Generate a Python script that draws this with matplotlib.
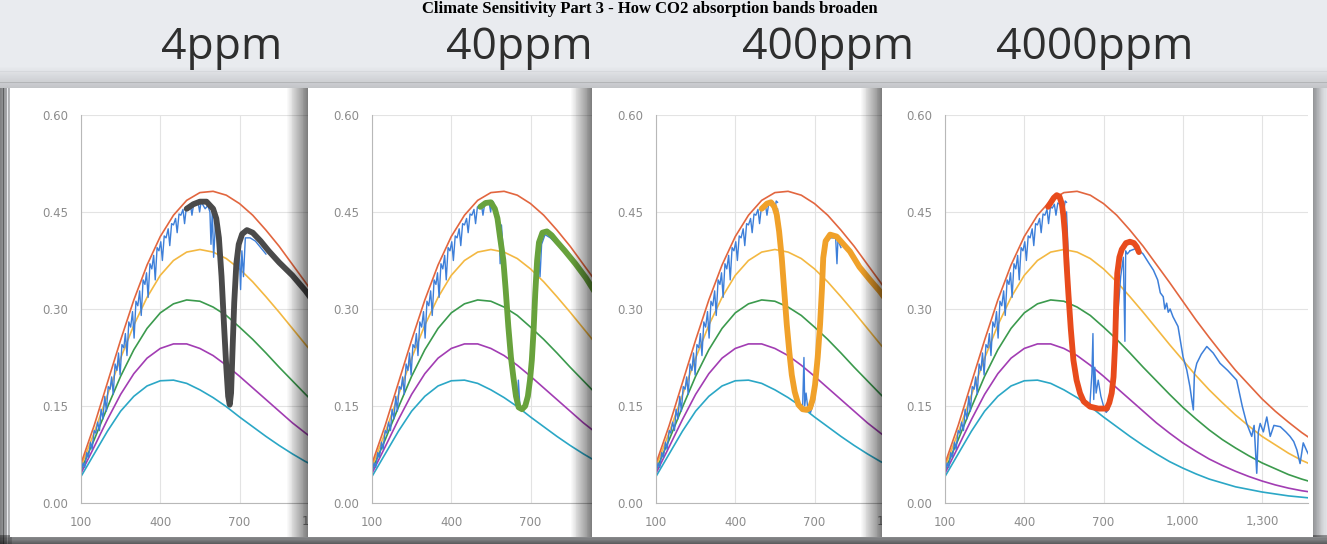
"""Four overlapping chart cards: how the CO2 band widens at 4, 40, 400, 4000 ppm."""
import matplotlib

matplotlib.use("Agg")
import matplotlib.pyplot as plt
import numpy as np
from matplotlib.patches import Rectangle

W, H = 1327, 544

TITLE = "Climate Sensitivity Part 3 - How CO2 absorption bands broaden"
PANEL_LABELS = ["4ppm", "40ppm", "400ppm", "4000ppm"]

XTICKS = [100, 400, 700, 1000, 1300]
XTICK_LABELS = ["100", "400", "700", "1,000", "1,300"]
YTICKS = [0.0, 0.15, 0.30, 0.45, 0.60]
YTICK_LABELS = ["0.00", "0.15", "0.30", "0.45", "0.60"]

# smooth reference curves, the same in every card (300K down to 220K)
WAVENUMBER = [100, 150, 200, 250, 300, 350, 400, 450, 500, 550, 600, 650, 700,
              750, 800, 850, 900, 950, 1000, 1050, 1100, 1150, 1200, 1250,
              1300, 1350, 1400, 1450, 1500]
CURVE_300 = [0.061, 0.120, 0.186, 0.252, 0.314, 0.368, 0.412, 0.445, 0.468,
             0.480, 0.482, 0.476, 0.463, 0.445, 0.422, 0.397, 0.369, 0.341,
             0.312, 0.283, 0.256, 0.230, 0.205, 0.183, 0.161, 0.142, 0.125,
             0.109, 0.095]
CURVE_280 = [0.056, 0.109, 0.167, 0.224, 0.275, 0.318, 0.352, 0.375, 0.388,
             0.392, 0.388, 0.378, 0.362, 0.342, 0.319, 0.295, 0.270, 0.245,
             0.221, 0.197, 0.175, 0.155, 0.136, 0.119, 0.103, 0.090, 0.077,
             0.066, 0.057]
CURVE_260 = [0.051, 0.098, 0.148, 0.196, 0.237, 0.270, 0.294, 0.308, 0.314,
             0.312, 0.303, 0.290, 0.272, 0.253, 0.232, 0.210, 0.189, 0.168,
             0.148, 0.130, 0.113, 0.098, 0.085, 0.073, 0.062, 0.053, 0.044,
             0.037, 0.031]
CURVE_240 = [0.046, 0.087, 0.129, 0.168, 0.200, 0.224, 0.239, 0.246, 0.246,
             0.239, 0.228, 0.213, 0.196, 0.178, 0.160, 0.142, 0.124, 0.108,
             0.093, 0.080, 0.068, 0.058, 0.049, 0.041, 0.034, 0.028, 0.023,
             0.019, 0.016]
CURVE_220 = [0.041, 0.076, 0.111, 0.142, 0.165, 0.181, 0.189, 0.190, 0.185,
             0.175, 0.163, 0.149, 0.133, 0.118, 0.103, 0.089, 0.076, 0.064,
             0.054, 0.045, 0.037, 0.031, 0.025, 0.021, 0.017, 0.014, 0.011,
             0.009, 0.007]
CURVES = [CURVE_220, CURVE_240, CURVE_260, CURVE_280, CURVE_300]
CURVE_COLORS = ["#2ba7c6", "#a23db3", "#3b9a4d", "#f3b842", "#e2663f"]

# noisy spectrum, left wing (shared)
BLUE_LEFT_V = [100, 108, 114, 122, 128, 136, 142, 150, 156, 163, 170, 176, 183,
               190, 196, 203, 210, 216, 222, 229, 236, 242, 248, 255, 262, 268,
               274, 281, 288, 295, 301, 308, 315, 322, 328, 335, 342, 348, 354,
               361, 368, 375, 381, 388, 395, 402, 408, 415, 422, 430, 436, 443,
               450, 458, 464, 471, 478, 486, 492, 499, 506, 514, 520, 527, 535,
               543, 549, 555, 560]
BLUE_LEFT_Y = [0.047, 0.062, 0.055, 0.078, 0.070, 0.094, 0.083, 0.112, 0.108,
               0.125, 0.112, 0.145, 0.130, 0.165, 0.142, 0.180, 0.176, 0.195,
               0.168, 0.215, 0.205, 0.232, 0.198, 0.245, 0.240, 0.262, 0.228,
               0.280, 0.272, 0.296, 0.255, 0.312, 0.305, 0.328, 0.290, 0.345,
               0.338, 0.356, 0.318, 0.370, 0.362, 0.383, 0.345, 0.395, 0.390,
               0.404, 0.375, 0.413, 0.410, 0.424, 0.398, 0.432, 0.430, 0.440,
               0.418, 0.447, 0.445, 0.454, 0.432, 0.458, 0.456, 0.462, 0.445,
               0.464, 0.462, 0.466, 0.450, 0.467, 0.465]
# noisy spectrum, right wing (seen only on the 4000ppm card)
BLUE_RIGHT_V = [800, 826, 850, 870, 889, 905, 915, 926, 932, 939, 945, 952,
                963, 982, 1001, 1015, 1027, 1034, 1040, 1044, 1053, 1070, 1091,
                1115, 1141, 1170, 1204, 1225, 1242, 1261, 1270, 1280, 1286,
                1293, 1305, 1318, 1331, 1345, 1369, 1390, 1406, 1420, 1432,
                1444, 1456, 1470, 1480]
BLUE_RIGHT_Y = [0.390, 0.394, 0.385, 0.372, 0.360, 0.345, 0.325, 0.319, 0.300,
                0.309, 0.295, 0.300, 0.288, 0.273, 0.226, 0.206, 0.180, 0.160,
                0.144, 0.200, 0.216, 0.230, 0.242, 0.232, 0.216, 0.205, 0.190,
                0.150, 0.123, 0.103, 0.120, 0.046, 0.110, 0.123, 0.110, 0.133,
                0.103, 0.120, 0.118, 0.110, 0.103, 0.095, 0.082, 0.061, 0.093,
                0.080, 0.072]

# noisy spectrum inside the band, one per card
BAND_BLUE_V = [
    [560, 570, 580, 588, 592, 597, 602, 610, 620, 632, 645, 655, 665, 675, 688,
     698, 704, 709, 715, 722, 740, 760, 780, 800],
    [560, 570, 580, 585, 590, 600, 610, 625, 640, 650, 654, 660, 670, 685, 700,
     712, 722, 730, 736, 742, 755, 775, 800],
    [560, 568, 576, 588, 600, 612, 625, 640, 655, 660, 663, 668, 675, 685, 700,
     712, 725, 740, 760, 780, 785, 789, 795, 800],
    [560, 565, 572, 582, 595, 610, 630, 648, 656, 660, 663, 667, 672, 680, 690,
     700, 710, 720, 730, 740, 752, 765, 775, 781, 784, 790, 800],
]
BAND_BLUE_Y = [
    [0.462, 0.455, 0.460, 0.450, 0.400, 0.452, 0.380, 0.440, 0.415, 0.350,
     0.270, 0.200, 0.155, 0.220, 0.360, 0.400, 0.330, 0.390, 0.350, 0.410,
     0.410, 0.405, 0.395, 0.385],
    [0.462, 0.455, 0.440, 0.370, 0.430, 0.370, 0.310, 0.240, 0.180, 0.155,
     0.190, 0.148, 0.145, 0.150, 0.190, 0.270, 0.340, 0.390, 0.350, 0.400,
     0.415, 0.410, 0.400],
    [0.455, 0.430, 0.380, 0.310, 0.260, 0.200, 0.165, 0.150, 0.148, 0.225,
     0.150, 0.170, 0.145, 0.140, 0.160, 0.230, 0.330, 0.400, 0.410, 0.410,
     0.370, 0.410, 0.400, 0.395],
    [0.450, 0.400, 0.320, 0.250, 0.200, 0.170, 0.155, 0.150, 0.200, 0.262,
     0.160, 0.210, 0.170, 0.190, 0.165, 0.150, 0.140, 0.145, 0.160, 0.190,
     0.280, 0.350, 0.380, 0.250, 0.390, 0.385, 0.390],
]

# thick band outline, one per card
BAND_V = [
    [500, 525, 550, 575, 600, 612, 622, 632, 642, 650, 657, 663, 668, 673, 680,
     688, 697, 710, 728, 750, 780, 810, 850, 900, 950, 1000, 1050],
    [510, 530, 550, 565, 575, 585, 597, 606, 616, 626, 635, 645, 655, 668, 680,
     690, 698, 705, 712, 718, 725, 732, 745, 762, 780, 800, 830, 870, 910, 950,
     1000],
    [500, 520, 535, 548, 557, 566, 576, 585, 595, 605, 614, 625, 639, 655, 670,
     683, 693, 702, 712, 721, 728, 733, 742, 759, 784, 810, 834, 870, 910, 948,
     1000],
    [490, 512, 523, 533, 542, 548, 554, 560, 567, 576, 586, 598, 611, 625, 649,
     680, 712, 722, 731, 738, 744, 748, 752, 760, 769, 785, 800, 815, 826, 834],
]
BAND_Y = [
    [0.455, 0.462, 0.466, 0.466, 0.455, 0.440, 0.410, 0.350, 0.270, 0.210,
     0.165, 0.152, 0.170, 0.230, 0.310, 0.370, 0.400, 0.416, 0.422, 0.418,
     0.405, 0.390, 0.372, 0.352, 0.328, 0.300, 0.275],
    [0.458, 0.464, 0.465, 0.455, 0.440, 0.410, 0.376, 0.330, 0.273, 0.225,
     0.195, 0.165, 0.148, 0.145, 0.150, 0.165, 0.190, 0.221, 0.270, 0.325,
     0.375, 0.403, 0.418, 0.420, 0.414, 0.404, 0.390, 0.370, 0.348, 0.322,
     0.293],
    [0.455, 0.463, 0.465, 0.458, 0.446, 0.420, 0.379, 0.330, 0.276, 0.232,
     0.198, 0.172, 0.152, 0.145, 0.144, 0.147, 0.160, 0.183, 0.225, 0.276,
     0.330, 0.379, 0.405, 0.415, 0.412, 0.400, 0.389, 0.365, 0.345, 0.327,
     0.298],
    [0.458, 0.472, 0.476, 0.474, 0.463, 0.445, 0.417, 0.370, 0.324, 0.270,
     0.221, 0.190, 0.170, 0.157, 0.149, 0.146, 0.146, 0.155, 0.170, 0.195,
     0.247, 0.310, 0.355, 0.380, 0.392, 0.402, 0.404, 0.402, 0.396, 0.388],
]
BAND_COLORS = ["#4a4a4a", "#68a23c", "#f0a12a", "#e84b1c"]
BLUE = "#3d7fd9"

# screenshot layout, in pixels from the top-left corner
CARD_LEFT = [10, 308, 592, 882]
CARD_RIGHT = [330, 612, 900, 1313]
CARD_TOP, CARD_BOTTOM = 88, 537
AXES_LEFT = [81, 372, 656, 945]
AXES_BOTTOM, AXES_W, AXES_H = 503, 363, 388
LABEL_X = [222, 519, 828, 1095]


def rect(fig, x0, y0, x1, y1, **kw):
    r = Rectangle((x0 / W, 1 - y1 / H), (x1 - x0) / W, (y1 - y0) / H,
                  transform=fig.transFigure, lw=0, **kw)
    fig.add_artist(r)


def ramp(fig, x0, y0, x1, y1, a0, a1, z, along="x", n=24, color="black"):
    # soft shadow made of thin slices with rising alpha
    for k, a in enumerate(np.linspace(a0, a1, n)):
        if along == "x":
            s0 = x0 + (x1 - x0) * k / n
            s1 = x0 + (x1 - x0) * (k + 1) / n
            rect(fig, s0, y0, s1, y1, color=color, alpha=a, zorder=z)
        else:
            s0 = y0 + (y1 - y0) * k / n
            s1 = y0 + (y1 - y0) * (k + 1) / n
            rect(fig, x0, s0, x1, s1, color=color, alpha=a, zorder=z)


fig = plt.figure(figsize=(W / 100, H / 100), dpi=100, facecolor="#e9ebef")

# backdrop edges
ramp(fig, 0, 66, W, CARD_TOP, 0.0, 0.16, 0.2, along="y")
ramp(fig, 0, CARD_TOP, 12, H, 0.45, 0.15, 0.3)
ramp(fig, 0, CARD_BOTTOM - 2, W, H, 0.35, 0.6, 0.4, along="y", n=8)
ramp(fig, CARD_RIGHT[-1], CARD_TOP, W, CARD_BOTTOM, 0.22, 0.04, 0.3, n=10)

fig.text(650 / W, 1 - 13 / H, TITLE, ha="center", va="baseline", fontsize=12,
         family="Liberation Serif", weight="bold", color="black")

for i in range(4):
    z = 10 * (i + 1)
    if i > 0:
        # shadow the card throws on the one below it
        ramp(fig, CARD_LEFT[i] - 22, CARD_TOP, CARD_LEFT[i], CARD_BOTTOM,
             0.0, 0.5, z + 4)
    rect(fig, CARD_LEFT[i], CARD_TOP, CARD_RIGHT[i], CARD_BOTTOM,
         color="white", zorder=z + 5)

    ax = fig.add_axes([AXES_LEFT[i] / W, 1 - AXES_BOTTOM / H, AXES_W / W,
                       AXES_H / H], zorder=z + 6)
    ax.patch.set_visible(False)
    for curve, col in zip(CURVES, CURVE_COLORS):
        ax.plot(WAVENUMBER, curve, color=col, lw=1.2)
    ax.plot(BLUE_LEFT_V, BLUE_LEFT_Y, color=BLUE, lw=1.0)
    ax.plot(BAND_BLUE_V[i], BAND_BLUE_Y[i], color=BLUE, lw=1.0)
    if i == 3:
        ax.plot(BLUE_RIGHT_V, BLUE_RIGHT_Y, color=BLUE, lw=1.1)
    ax.plot(BAND_V[i], BAND_Y[i], color=BAND_COLORS[i], lw=4.2,
            solid_capstyle="round", solid_joinstyle="round")

    ax.set_xlim(100, 1474)
    ax.set_ylim(0, 0.6)
    ax.set_xticks(XTICKS, XTICK_LABELS)
    ax.set_yticks(YTICKS, YTICK_LABELS)
    ax.tick_params(length=0, labelsize=8.5, labelcolor="#8c8c8c", pad=9)
    ax.grid(True, color="#e3e3e3", lw=0.8)
    ax.set_axisbelow(True)
    for side in ("top", "right"):
        ax.spines[side].set_visible(False)
    for side in ("left", "bottom"):
        ax.spines[side].set_color("#b8b8b8")

    fig.text(LABEL_X[i] / W, 1 - 59 / H, PANEL_LABELS[i], ha="center",
             va="baseline", fontsize=32, family="Open Sans", color="#2e2e2e",
             zorder=60)

# light shadow right of the last card
ramp(fig, CARD_RIGHT[-1], CARD_TOP, CARD_RIGHT[-1] + 10, CARD_BOTTOM,
     0.18, 0.0, 55, n=10)

fig.savefig("out.png", dpi=100, facecolor=fig.get_facecolor())
